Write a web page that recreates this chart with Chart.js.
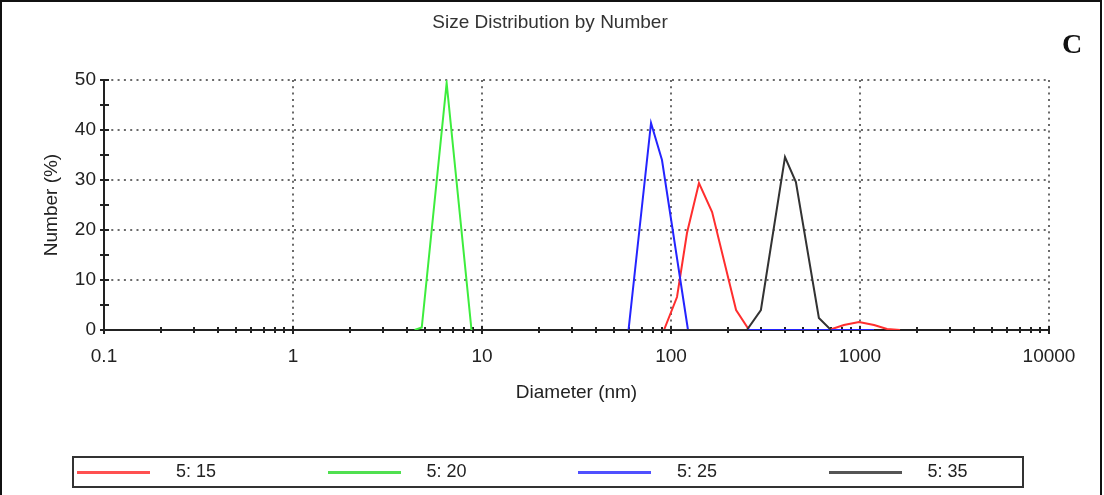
<!DOCTYPE html>
<html>
<head>
<meta charset="utf-8">
<script src="https://cdn.jsdelivr.net/npm/chart.js@4.4.1/dist/chart.umd.min.js"></script>
<style>
  html, body { margin: 0; padding: 0; background: #fff; }
  #wrap { position: relative; width: 1104px; height: 495px; overflow: hidden; }
  #c { position: absolute; left: 0; top: 0; }
  #frame { position: absolute; left: 0; top: 0; width: 1102px; height: 497px; box-sizing: border-box;
           border-left: 2px solid #111; border-top: 2px solid #111; border-right: 2px solid #111; pointer-events: none; }
  #title { position: absolute; left: 0; width: 1100px; top: 10px; text-align: center;
           font-family: "Liberation Sans", Arial, sans-serif; font-size: 19px; line-height: 24px; color: #333; }
  #letter { position: absolute; left: 1062px; top: 28px; font-family: "Liberation Serif", "DejaVu Serif", serif;
            font-weight: bold; font-size: 28px; color: #111; }
  #legend { position: absolute; left: 72px; top: 456px; width: 952px; height: 32px; box-sizing: border-box;
            border: 2px solid #333; display: flex; align-items: center; }
  .item { width: 250.5px; height: 100%; position: relative; flex: none; }
  .swatch { position: absolute; left: 3px; top: 13px; width: 73px; height: 3px; }
  .lbl { position: absolute; left: 102px; top: 3px; font-family: "Liberation Sans", Arial, sans-serif;
         font-size: 18px; color: #222; }
</style>
</head>
<body>
<div id="wrap">
  <canvas id="c" width="1104" height="495"></canvas>
  <div id="frame"></div>
  <div id="title"></div>
  <div id="letter">C</div>
  <div id="legend"></div>
</div>
<script>
// ---- data ----
const seriesLabels = ["5: 15", "5: 20", "5: 25", "5: 35"];
const seriesColors = ["#ff2e2e", "#3ded3d", "#2424ff", "#333333"];
const legendColors = ["#ff5050", "#50e050", "#5050ff", "#555555"];

// 5:15 (red)
const d515 = [91.8, 107.6, 121.5, 140.6, 165, 221, 259, 686, 822, 988, 1186, 1390, 1629];
const n515 = [0, 6.6, 19.4, 29.4, 23.6, 4, 0, 0, 1.0, 1.6, 1.0, 0.2, 0];
// 5:20 (green)
const d520 = [4.4, 4.8, 6.5, 8.8];
const n520 = [0, 0.5, 49.4, 0];
// 5:25 (blue)
const d525 = [59.6, 78.4, 89.6, 123, 180, 252, 1186];
const n525 = [0, 41.4, 34, 0, null, 0, 0];
// 5:35 (black)
const d535 = [59.6, 252, 299, 401, 458, 606, 702];
const n535 = [0, 0, 4, 34.6, 29.6, 2.4, 0];

const xTickValues = [0.1, 1, 10, 100, 1000, 10000];
const xTickLabels = ["0.1", "1", "10", "100", "1000", "10000"];
const yTickValues = [0, 10, 20, 30, 40, 50];

const titleText = "Size Distribution by Number";
const xTitle = "Diameter (nm)";
const yTitle = "Number (%)";

// ---- build ----
document.getElementById('title').textContent = titleText;
function pts(d, n) { return d.map((v, i) => ({ x: v, y: n[i] })); }
const seriesData = [pts(d515, n515), pts(d520, n520), pts(d525, n525), pts(d535, n535)];
const drawOrder = [2, 3, 1, 0];

const FONT = "'Liberation Sans', Arial, sans-serif";

const minorTicks = {
  id: 'minorTicks',
  beforeDatasetsDraw(chart) {
    const xs = chart.scales.x, ys = chart.scales.y, ctx = chart.ctx;
    const x0 = ys.right, y0 = xs.top;
    ctx.save();
    ctx.strokeStyle = '#222';
    ctx.lineWidth = 2;
    ctx.beginPath();
    for (let e = 0; e < xTickValues.length; e++) {
      const dec = xTickValues[e];
      for (let k = 1; k <= 9; k++) {
        const v = dec * k;
        if (v > xs.max * 1.0001) break;
        const px = Math.round(xs.getPixelForValue(v));
        const h = k === 1 ? 4 : 3;
        ctx.moveTo(px, y0 - h); ctx.lineTo(px, y0 + h);
      }
    }
    for (let v = 0; v <= 50; v += 5) {
      const py = Math.round(ys.getPixelForValue(v));
      ctx.moveTo(x0 - 4, py); ctx.lineTo(x0 + 5, py);
    }
    ctx.stroke();
    ctx.restore();
  }
};

const gridDash = [2, 4.3];

new Chart(document.getElementById('c'), {
  type: 'line',
  data: {
    datasets: seriesLabels.map((lab, i) => ({
      label: lab,
      data: seriesData[i],
      borderColor: seriesColors[i],
      backgroundColor: seriesColors[i],
      borderWidth: 2,
      pointRadius: 0,
      tension: 0,
      spanGaps: false,
      order: drawOrder[i]
    }))
  },
  options: {
    responsive: false,
    animation: false,
    devicePixelRatio: 1,
    layout: { padding: { top: 80, left: 0, right: 55, bottom: 89.6 } },
    plugins: {
      legend: { display: false },
      tooltip: { enabled: false },
      title: { display: false }
    },
    scales: {
      x: {
        type: 'logarithmic', min: 0.1, max: 10000,
        afterBuildTicks(scale) { scale.ticks = xTickValues.map(v => ({ value: v, major: true })); },
        afterFit(scale) { scale.height = 75.4; },
        ticks: {
          autoSkip: false, maxRotation: 0, padding: 15, color: '#222',
          font: { family: FONT, size: 19 },
          callback: (v, i) => xTickLabels[i]
        },
        grid: { drawTicks: false, color: '#6a6a6a', lineWidth: 2 },
        border: { display: true, color: '#222', width: 2, dash: gridDash },
        title: { display: true, text: xTitle, color: '#222', font: { family: FONT, size: 19 }, padding: { top: 4, bottom: 1 } }
      },
      y: {
        type: 'linear', min: 0, max: 50,
        afterBuildTicks(scale) { scale.ticks = yTickValues.map(v => ({ value: v })); },
        afterFit(scale) { scale.width = 104; },
        ticks: { padding: 8, color: '#222', font: { family: FONT, size: 19 } },
        grid: { drawTicks: false, color: '#6a6a6a', lineWidth: 2 },
        border: { display: true, color: '#222', width: 2, dash: gridDash },
        title: { display: true, text: yTitle, color: '#222', font: { family: FONT, size: 19 }, padding: { top: 40.6, bottom: 0 } }
      }
    }
  },
  plugins: [minorTicks]
});

// HTML legend from the series arrays
const lg = document.getElementById('legend');
seriesLabels.forEach((lab, i) => {
  const it = document.createElement('div'); it.className = 'item';
  const sw = document.createElement('div'); sw.className = 'swatch'; sw.style.background = legendColors[i];
  const tx = document.createElement('div'); tx.className = 'lbl'; tx.textContent = lab;
  it.appendChild(sw); it.appendChild(tx); lg.appendChild(it);
});
</script>
</body>
</html>
